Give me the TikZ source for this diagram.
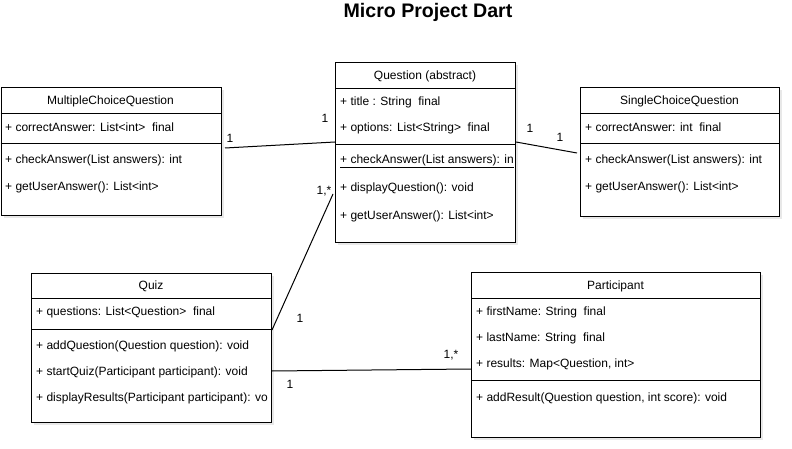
\documentclass[tikz,border=0pt]{standalone}
\usepackage{fontspec}
\setmainfont{Liberation Sans}
\usetikzlibrary{shadows}

\tikzset{
	classbox/.style={draw, fill=white, line width=1pt, anchor=north west,
		drop shadow={shadow xshift=2.5pt, shadow yshift=-2.5pt, opacity=0.18}},
	member/.style={anchor=west, inner sep=0pt, yshift=-1.5pt, font=\fontsize{12}{14}\selectfont},
	classname/.style={inner sep=0pt, yshift=-1.5pt, font=\fontsize{12}{14}\selectfont},
	mult/.style={inner sep=0pt, yshift=-1pt, font=\fontsize{12}{14}\selectfont},
	assoc/.style={line width=1pt}
}

\begin{document}
\begin{tikzpicture}[x=1pt, y=-1pt]
	\useasboundingbox (0,0) rectangle (792,449);

	% Title
	\node[font=\bfseries\fontsize{19.6}{22}\selectfont] (title) at (428,12) {Micro Project Dart};

	% Draw class boxes
	%Question
	\node[classbox, minimum width=180pt, minimum height=180pt] (question) at (335,62) {};
	\draw ([yshift=-26pt]question.north west) -- ([yshift=-26pt]question.north east);
	\draw ([yshift=-82pt]question.north west) -- ([yshift=-82pt]question.north east);
	%MultipleChoiceQuestion
	\node[classbox, minimum width=220pt, minimum height=128pt] (mcq) at (0.5,87) {};
	\draw ([yshift=-26pt]mcq.north west) -- ([yshift=-26pt]mcq.north east);
	\draw ([yshift=-56pt]mcq.north west) -- ([yshift=-56pt]mcq.north east);
	%SingleChoiceQuestion
	\node[classbox, minimum width=199pt, minimum height=129pt] (scq) at (580,87) {};
	\draw ([yshift=-26pt]scq.north west) -- ([yshift=-26pt]scq.north east);
	\draw ([yshift=-56pt]scq.north west) -- ([yshift=-56pt]scq.north east);
	%Quiz
	\node[classbox, minimum width=240pt, minimum height=149pt] (quiz) at (31,273) {};
	\draw ([yshift=-25pt]quiz.north west) -- ([yshift=-25pt]quiz.north east);
	\draw ([yshift=-56pt]quiz.north west) -- ([yshift=-56pt]quiz.north east);
	%Participant
	\node[classbox, minimum width=289pt, minimum height=165pt] (participant) at (471,272) {};
	\draw ([yshift=-26pt]participant.north west) -- ([yshift=-26pt]participant.north east);
	\draw ([yshift=-108pt]participant.north west) -- ([yshift=-108pt]participant.north east);

	% Class names
	\node[classname] (qName) at (425,75) {Question (abstract)};
	\node[classname] (mcqName) at (110.5,100) {MultipleChoiceQuestion};
	\node[classname] (scqName) at (679.5,100) {SingleChoiceQuestion};
	\node[classname] (quizName) at (151,285) {Quiz};
	\node[classname] (pName) at (615.5,285) {Participant};

	% Members
	%Question
	\begin{scope}
		\clip (question.north west) rectangle (question.south east);
		\node[member] (qTitle) at (340,101) {+ title : String\ \ final};
		\node[member] (qOptions) at (340,127) {+ options: List<String>\ \ final};
		\node[member] (qCheck) at (340,160) {\underline{+ checkAnswer(List answers): in}};
		\node[member] (qDisplay) at (340,187) {+ displayQuestion(): void};
		\node[member] (qGet) at (340,215) {+ getUserAnswer(): List<int>};
	\end{scope}
	%MultipleChoiceQuestion
	\node[member] (mcqCorrect) at (5,126) {+ correctAnswer: List<int>\ \ final};
	\node[member] (mcqCheck) at (5,159) {+ checkAnswer(List answers): int};
	\node[member] (mcqGet) at (5,186) {+ getUserAnswer(): List<int>};
	%SingleChoiceQuestion
	\node[member] (scqCorrect) at (585,126) {+ correctAnswer: int\ \ final};
	\node[member] (scqCheck) at (585,159) {+ checkAnswer(List answers): int};
	\node[member] (scqGet) at (585,186) {+ getUserAnswer(): List<int>};
	%Quiz
	\begin{scope}
		\clip (quiz.north west) rectangle (quiz.south east);
		\node[member] (quizQuestions) at (36,311) {+ questions: List<Question>\ \ final};
		\node[member] (quizAdd) at (36,345) {+ addQuestion(Question question): void};
		\node[member] (quizStart) at (36,371) {+ startQuiz(Participant participant): void};
		\node[member] (quizDisplay) at (36,397) {+ displayResults(Participant participant): vo};
	\end{scope}
	%Participant
	\node[member] (pFirst) at (476,311) {+ firstName: String\ \ final};
	\node[member] (pLast) at (476,337) {+ lastName: String\ \ final};
	\node[member] (pResults) at (476,363) {+ results: Map<Question, int>};
	\node[member] (pAdd) at (476,397) {+ addResult(Question question, int score): void};

	% Associations
	\coordinate (mcqEnd) at (225,148);
	\coordinate (scqEnd) at (577,153);
	\coordinate (qQuizEnd) at (333,194);
	\draw[assoc] (mcqEnd) -- ([yshift=-80pt]question.north west);
	\draw[assoc] ([yshift=-80pt]question.north east) -- (scqEnd);
	\draw[assoc] ([yshift=-57pt]quiz.north east) -- (qQuizEnd);
	\draw[assoc] ([yshift=-98pt]quiz.north east) -- ([yshift=-97pt]participant.north west);

	% Multiplicities
	\node[mult] (mMcq) at (230,137) {1};
	\node[mult] (mQLeft) at (325,117) {1};
	\node[mult] (mQRight) at (530,127) {1};
	\node[mult] (mScq) at (560,136) {1};
	\node[mult] (mQQuiz) at (324,190) {1,*};
	\node[mult] (mQuizQ) at (300,317) {1};
	\node[mult] (mPQuiz) at (451,354) {1,*};
	\node[mult] (mQuizP) at (290,383) {1};

\end{tikzpicture}
\end{document}
